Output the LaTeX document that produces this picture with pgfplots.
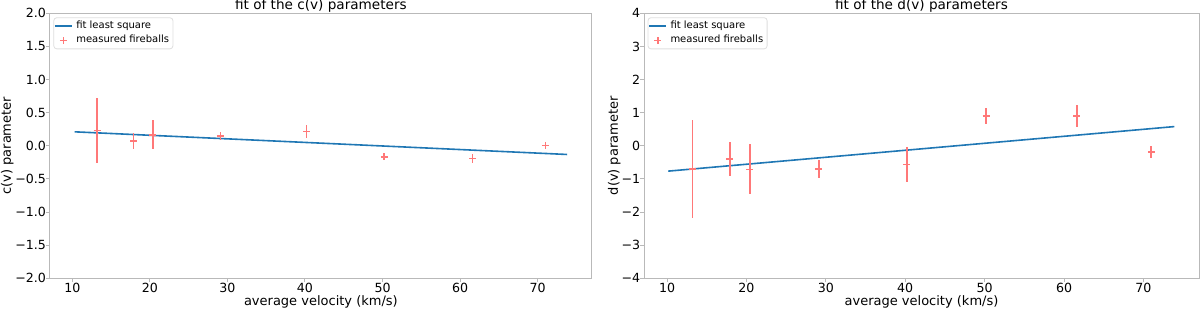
\documentclass[border=0pt]{standalone}
\usepackage{fontspec}
\setmainfont{DejaVu Sans}
\usepackage{pgfplots}
\usepackage{pgfplotstable}
\pgfplotsset{compat=1.18}
\definecolor{fitblue}{HTML}{1F77B4}
\definecolor{errred}{RGB}{255,120,120}
\pgfplotstableread{
x y e
13.2 0.23 0.49
17.9 0.07 0.12
20.4 0.166 0.22
29.1 0.146 0.065
40.2 0.216 0.105
50.2 -0.166 0.035
61.6 -0.19 0.07
71.0 0.005 0.04
}\cdata
\pgfplotstableread{
x y e
13.2 -0.70 1.48
17.9 -0.40 0.52
20.4 -0.71 0.76
29.1 -0.70 0.27
40.2 -0.56 0.52
50.2 0.90 0.23
61.6 0.90 0.33
71.0 -0.19 0.17
}\ddata
\pgfplotsset{
  every axis title shift=0pt,
  myax/.style={
    scale only axis,
    anchor=south west,
    height=132.5pt,
    xmin=7.1, xmax=77,
    xtick={10,20,30,40,50,60,70},
    tick align=outside, tick pos=left,
    major tick length=2pt,
    axis line style={gray!55, line width=0.5pt},
    every tick/.style={gray!55, line width=0.5pt},
    /pgf/number format/assume math mode=true,
    ticklabel style={font=\fontsize{6.3}{7}\selectfont},
    yticklabel style={inner xsep=0pt, xshift=0.3pt},
    xticklabel style={anchor=base, yshift=-5pt},
    label style={font=\fontsize{6.5}{7.5}\selectfont},
    title style={at={(axis description cs:0.5,1)}, anchor=base, yshift=1.8pt, font=\fontsize{6.8}{8}\selectfont},
    xlabel style={at={(axis description cs:0.5,0)}, anchor=base, yshift=-13.5pt},
    xlabel={average velocity (km/s)},
    legend cell align=left,
    legend style={at={(axis description cs:0,1)}, anchor=north west, xshift=1.8pt, yshift=-2pt,
      draw=gray!25, rounded corners=1.5pt, font=\fontsize{5}{6}\selectfont,
      inner xsep=0.2pt, inner ysep=0.5pt, row sep=0pt,
      nodes={inner xsep=1.75pt, inner ysep=1pt, text depth=0.15em}},
  },
  fitline/.style={fitblue, line width=0.8pt,
    legend image code/.code={\draw[##1] (0pt,0pt) -- (8.5pt,0pt);}},
  errstyle/.style={color=errred, only marks, mark=+, mark size=1.75pt,
    mark options={draw=errred, line width=0.8pt},
    legend image code/.code={\draw[##1] plot coordinates {(4.25pt,0pt)};},
    error bars/.cd, y dir=both, y explicit, error mark=none,
    error bar style={draw=errred, line width=0.9pt}},
}
\begin{document}
\begin{tikzpicture}
\path[use as bounding box] (0,0) rectangle (600pt,154.5pt);
\begin{axis}[myax,
  at={(24.9pt,15.35pt)}, width=271.1pt,
  ymin=-2, ymax=2, ytick={-2,-1.5,-1,-0.5,0,0.5,1,1.5,2},
  yticklabels={−2.0,−1.5,−1.0,−0.5,0.0,0.5,1.0,1.5,2.0},
  title={fit of the c(v) parameters},
  ylabel={c(v) parameter},
  ylabel style={at={(axis description cs:-0.0786,0.5)}, anchor=center},
]
\addplot[fitline] coordinates {(10.3,0.211) (73.8,-0.131)};
\addlegendentry{fit least square}
\addplot[errstyle] table[x=x, y=y, y error=e] {\cdata};
\addlegendentry{measured fireballs}
\end{axis}
\begin{axis}[myax,
  at={(322pt,15.35pt)}, width=277.5pt,
  ymin=-4, ymax=4, ytick={-4,-3,-2,-1,0,1,2,3,4},
  yticklabels={−4,−3,−2,−1,0,1,2,3,4},
  title={fit of the d(v) parameters},
  ylabel={d(v) parameter},
  ylabel style={at={(axis description cs:-0.0537,0.5)}, anchor=center},
]
\addplot[fitline] coordinates {(10.15,-0.765) (73.9,0.58)};
\addlegendentry{fit least square}
\addplot[errstyle] table[x=x, y=y, y error=e] {\ddata};
\addlegendentry{measured fireballs}
\end{axis}
\end{tikzpicture}
\end{document}
